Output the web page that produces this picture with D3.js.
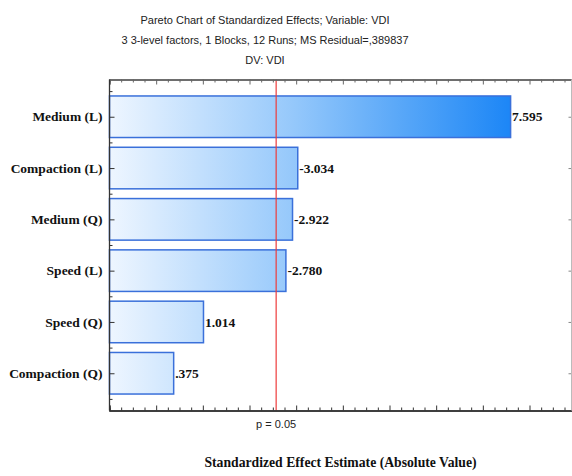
<!DOCTYPE html>
<html>
<head>
<meta charset="utf-8">
<script src="https://cdn.jsdelivr.net/npm/d3@7"></script>
<style>
  html, body { margin: 0; padding: 0; background: #fff; }
  svg { display: block; }
</style>
</head>
<body>
<svg id="chart" width="572" height="476"></svg>
<script>
// Effects, ordered by absolute size
const effects = ["Medium (L)", "Compaction (L)", "Medium (Q)", "Speed (L)", "Speed (Q)", "Compaction (Q)"];
const absValues = [7.595, 3.034, 2.922, 2.780, 1.014, 0.375];
const valueLabels = ["7.595", "-3.034", "-2.922", "-2.780", "1.014", ".375"];
const pCritical = 2.571;   // t(0.975, 5 df)
const pLabel = "p = 0.05";
const titleLines = [
  "Pareto Chart of Standardized Effects; Variable: VDI",
  "3 3-level factors, 1 Blocks, 12 Runs; MS Residual=,389837",
  "DV: VDI"
];
const xTitle = "Standardized Effect Estimate (Absolute Value)";

const svg = d3.select("#chart");
const plot = { left: 109.5, right: 571.5, top: 79.5, bottom: 410.5 };

const x = d3.scaleLinear().domain([-1, 8.9]).range([plot.left, plot.right]);
const y = d3.scalePoint().domain(effects).range([plot.top, plot.bottom]).padding(0.726);
const step = y.step();
const barH = step * 0.81;

// gradient spans the value range so short bars stay pale
const defs = svg.append("defs");
const grad = defs.append("linearGradient")
  .attr("id", "barGrad")
  .attr("gradientUnits", "userSpaceOnUse")
  .attr("x1", x(-1)).attr("x2", x(7.595))
  .attr("y1", 0).attr("y2", 0);
grad.append("stop").attr("offset", "0%").attr("stop-color", "#eef6ff");
grad.append("stop").attr("offset", "45%").attr("stop-color", "#97c9fb");
grad.append("stop").attr("offset", "72%").attr("stop-color", "#5aa8f8");
grad.append("stop").attr("offset", "100%").attr("stop-color", "#1c86f6");

// titles
svg.append("g").selectAll("text")
  .data(titleLines)
  .join("text")
  .attr("x", 265)
  .attr("y", (d, i) => 24 + i * 20)
  .attr("text-anchor", "middle")
  .attr("font-family", "Liberation Sans, Arial, sans-serif")
  .attr("font-size", 11)
  .attr("fill", "#222")
  .text(d => d);

// bars
const data = effects.map((e, i) => ({ name: e, v: absValues[i], label: valueLabels[i] }));
svg.append("g").selectAll("rect")
  .data(data)
  .join("rect")
  .attr("x", x(-1))
  .attr("y", d => y(d.name) - barH / 2)
  .attr("width", d => x(d.v) - x(-1))
  .attr("height", barH)
  .attr("fill", "url(#barGrad)")
  .attr("stroke", "#3a70da")
  .attr("stroke-width", 1.5);

// value labels
svg.append("g").selectAll("text")
  .data(data)
  .join("text")
  .attr("x", d => x(d.v) + 1.5)
  .attr("y", d => y(d.name))
  .attr("dy", "0.35em")
  .attr("font-family", "Liberation Serif, Times New Roman, serif")
  .attr("font-weight", "bold")
  .attr("font-size", 13.5)
  .attr("fill", "#111")
  .text(d => d.label);

// critical value line
svg.append("line")
  .attr("x1", x(pCritical)).attr("x2", x(pCritical))
  .attr("y1", plot.top).attr("y2", plot.bottom)
  .attr("stroke", "#ee3b3b")
  .attr("stroke-width", 1.2);

svg.append("text")
  .attr("x", x(pCritical))
  .attr("y", 428)
  .attr("text-anchor", "middle")
  .attr("font-family", "Liberation Sans, Arial, sans-serif")
  .attr("font-size", 11)
  .attr("fill", "#222")
  .text(pLabel);

// axes: frame with inward ticks, no numeric labels
const majorX = d3.range(-1, 9, 1);
const minorX = d3.range(-1, 8.9, 0.25).filter(v => Math.abs(v - Math.round(v)) > 1e-6);

const bottomAxis = d3.axisBottom(x).tickValues(majorX).tickSize(-5).tickFormat("");
const bottomMinor = d3.axisBottom(x).tickValues(minorX).tickSize(-3).tickFormat("");
const topAxis = d3.axisTop(x).tickValues(majorX).tickSize(-5).tickFormat("");
const topMinor = d3.axisTop(x).tickValues(minorX).tickSize(-3).tickFormat("");

function styleAxis(g, color) {
  g.selectAll("path").attr("stroke", color).attr("stroke-width", 1.3);
  g.selectAll("line").attr("stroke", color);
}

svg.append("g").attr("transform", `translate(0,${plot.bottom})`).call(bottomMinor).call(g => styleAxis(g, "#333"));
svg.append("g").attr("transform", `translate(0,${plot.bottom})`).call(bottomAxis).call(g => styleAxis(g, "#333"));
svg.append("g").attr("transform", `translate(0,${plot.top})`).call(topMinor).call(g => styleAxis(g, "#666"));
svg.append("g").attr("transform", `translate(0,${plot.top})`).call(topAxis).call(g => styleAxis(g, "#666"));

// category axis: major ticks at bars, minor ticks halfway between
const yTicks = d3.scaleLinear().domain([0, effects.length - 1])
  .range([y(effects[0]), y(effects[effects.length - 1])]);
const leftAxisMajor = d3.axisLeft(yTicks).tickValues(d3.range(0, effects.length)).tickSize(-5).tickFormat("");
const leftAxisMinor = d3.axisLeft(yTicks).tickValues(d3.range(-0.5, effects.length, 1)).tickSize(-3).tickFormat("");
const rightAxisMajor = d3.axisRight(yTicks).tickValues(d3.range(0, effects.length)).tickSize(-3).tickFormat("");

const leftG = svg.append("g").attr("transform", `translate(${plot.left},0)`);
leftG.call(leftAxisMinor).call(g => styleAxis(g, "#333"));
leftG.append("g").call(leftAxisMajor).call(g => styleAxis(g, "#333"));
leftG.append("line").attr("x1", 0).attr("x2", 0).attr("y1", plot.top).attr("y2", plot.bottom)
  .attr("stroke", "#333").attr("stroke-width", 1.3);
leftG.selectAll("path.domain").remove();

const rightG = svg.append("g").attr("transform", `translate(${plot.right},0)`);
rightG.call(rightAxisMajor).call(g => styleAxis(g, "#888"));
rightG.selectAll("path.domain").remove();
rightG.append("line").attr("x1", 0).attr("x2", 0).attr("y1", plot.top).attr("y2", plot.bottom)
  .attr("stroke", "#bbb").attr("stroke-width", 1);

// category labels
svg.append("g").selectAll("text")
  .data(effects)
  .join("text")
  .attr("x", plot.left - 7)
  .attr("y", d => y(d))
  .attr("dy", "0.35em")
  .attr("text-anchor", "end")
  .attr("font-family", "Liberation Serif, Times New Roman, serif")
  .attr("font-weight", "bold")
  .attr("font-size", 13.5)
  .attr("fill", "#111")
  .text(d => d);

// x-axis title
svg.append("text")
  .attr("x", (plot.left + plot.right) / 2)
  .attr("y", 467)
  .attr("text-anchor", "middle")
  .attr("font-family", "Liberation Serif, Times New Roman, serif")
  .attr("font-weight", "bold")
  .attr("font-size", 13.7)
  .attr("fill", "#111")
  .text(xTitle);
</script>
</body>
</html>
